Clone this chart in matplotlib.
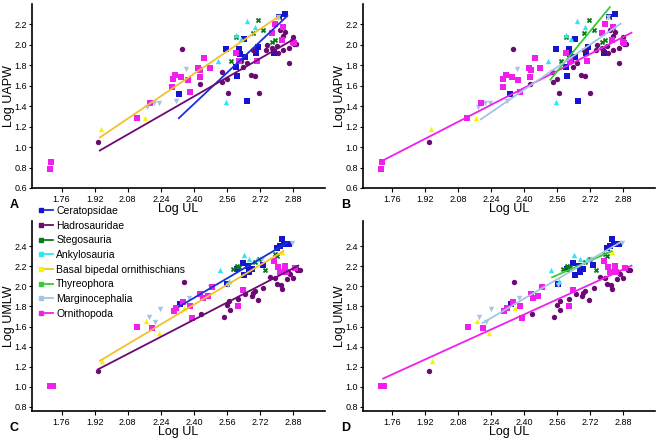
import matplotlib
matplotlib.use("Agg")
import matplotlib.pyplot as plt
from matplotlib.lines import Line2D
from matplotlib.legend_handler import HandlerTuple

plt.rcParams['font.family'] = ['Liberation Sans', 'DejaVu Sans']

# ---- UAPW data (panels A, B) ----
cera_ul_a = [2.33, 2.553, 2.604, 2.607, 2.617, 2.623, 2.648, 2.659, 2.644, 2.70, 2.711, 2.787, 2.813, 2.84]
cera_uapw = [1.52, 1.956, 1.78, 1.696, 1.956, 1.911, 1.878, 1.455, 2.057, 1.924, 1.982, 1.917, 2.275, 2.307]

hadro_ul_a = [1.937, 2.343, 2.428, 2.535, 2.537, 2.559, 2.567, 2.626, 2.636, 2.656, 2.675, 2.696, 2.717,
              2.688, 2.749, 2.752, 2.776, 2.781, 2.80, 2.808, 2.829, 2.832, 2.858, 2.861, 2.877, 2.883,
              2.893, 2.816, 2.84]
hadro_uapw = [1.049, 1.956, 1.618, 1.738, 1.64, 1.667, 1.527, 1.845, 1.787, 1.82, 1.706, 1.696, 1.527,
              1.95, 1.95, 1.998, 1.972, 1.95, 1.989, 1.924, 2.086, 1.95, 1.826, 1.966, 2.08, 2.008,
              2.005, 2.145, 2.128]

stego_ul_a = [2.578, 2.603, 2.688, 2.712, 2.736, 2.776, 2.792]
stego_uapw = [1.842, 2.08, 2.112, 2.242, 2.145, 2.031, 2.047]

ankylo_ul_a = [2.516, 2.553, 2.604, 2.627, 2.656, 2.696]
ankylo_uapw = [1.845, 1.446, 2.096, 2.054, 2.236, 2.171]

basal_ul_a = [1.949, 2.163, 2.335, 2.808]
basal_uapw = [1.176, 1.286, 1.696, 2.268]

margino_ul_a = [2.174, 2.209, 2.232, 2.314, 2.364, 2.805]
margino_uapw = [1.397, 1.436, 1.436, 1.455, 1.761, 2.275]

ornitho_ul_a = [1.705, 1.71, 2.123, 2.19, 2.294, 2.298, 2.31, 2.339, 2.37, 2.38, 2.421, 2.428, 2.431,
                2.45, 2.476, 2.604, 2.62, 2.704, 2.776, 2.792, 2.829, 2.824, 2.877, 2.883]
ornitho_uapw = [0.785, 0.85, 1.286, 1.436, 1.585, 1.663, 1.702, 1.683, 1.657, 1.543, 1.777, 1.683, 1.751,
                1.868, 1.777, 1.924, 1.845, 1.845, 2.112, 2.203, 2.177, 2.047, 2.031, 2.015]

# ---- UMLW data (panels C, D) ----
cera_ul_m = [2.335, 2.562, 2.607, 2.636, 2.644, 2.664, 2.668, 2.683, 2.733, 2.80, 2.816, 2.827, 2.835, 2.858]
cera_umlw = [1.824, 2.024, 2.173, 2.233, 2.117, 2.206, 2.147, 2.173, 2.213, 2.379, 2.406, 2.472, 2.423, 2.423]

hadro_ul_m = [1.938, 2.351, 2.436, 2.546, 2.559, 2.572, 2.575, 2.615, 2.649, 2.68, 2.684, 2.696, 2.712,
              2.736, 2.768, 2.792, 2.803, 2.821, 2.824, 2.848, 2.856, 2.877, 2.893, 2.901, 2.912, 2.864]
hadro_umlw = [1.159, 2.04, 1.724, 1.698, 1.814, 1.857, 1.768, 1.874, 1.924, 1.907, 1.934, 1.957, 1.867,
              1.984, 2.09, 2.08, 2.024, 2.014, 1.974, 2.074, 2.14, 2.08, 2.18, 2.163, 2.163, 2.123]

stego_ul_m = [2.587, 2.607, 2.62, 2.694, 2.717, 2.746, 2.792, 2.803]
stego_umlw = [2.173, 2.206, 2.19, 2.246, 2.273, 2.167, 2.323, 2.306]

ankylo_ul_m = [2.527, 2.569, 2.64, 2.668, 2.704]
ankylo_umlw = [2.163, 2.057, 2.316, 2.273, 2.273]

basal_ul_m = [1.954, 2.169, 2.23, 2.354, 2.824]
basal_umlw = [1.259, 1.658, 1.532, 1.781, 2.339]

margino_ul_m = [2.182, 2.214, 2.238, 2.375, 2.479, 2.564, 2.728, 2.872]
margino_umlw = [1.691, 1.641, 1.774, 1.884, 1.99, 2.017, 2.273, 2.433]

ornitho_ul_m = [1.705, 1.717, 2.126, 2.198, 2.302, 2.314, 2.347, 2.379, 2.389, 2.431, 2.444, 2.466,
                2.487, 2.636, 2.615, 2.787, 2.805, 2.816, 2.84, 2.845, 2.888]
ornitho_umlw = [1.009, 1.009, 1.598, 1.581, 1.758, 1.781, 1.847, 1.801, 1.681, 1.924, 1.881, 1.907,
                1.99, 1.967, 1.801, 2.256, 2.19, 2.14, 2.206, 2.14, 2.18]

# ---- regression lines: (x0, x1), (y0, y1) ----
fit_a_cera = ([2.327, 2.852], [1.283, 2.284])
fit_a_hadro = ([1.945, 2.884], [0.967, 2.057])
fit_a_basal = ([1.945, 2.807], [1.094, 2.274])
fit_b_ornitho = ([1.715, 2.92], [0.871, 2.119])
fit_b_thyreo = ([2.526, 2.815], [1.66, 2.369])
fit_b_margino = ([2.189, 2.867], [1.272, 2.207])
fit_c_basal = ([1.945, 2.833], [1.259, 2.35])
fit_c_hadro = ([1.938, 2.905], [1.176, 2.206])
fit_c_cera = ([2.33, 2.852], [1.80, 2.433])
fit_d_ornitho = ([1.715, 2.92], [1.083, 2.206])
fit_d_thyreo = ([2.535, 2.824], [2.09, 2.35])
fit_d_margino = ([2.197, 2.872], [1.635, 2.446])

x_ticks = [1.76, 1.92, 2.08, 2.24, 2.40, 2.56, 2.72, 2.88]

groups = ['Ceratopsidae', 'Hadrosauridae', 'Stegosauria', 'Ankylosauria',
          'Basal bipedal ornithischians', 'Thyreophora', 'Marginocephalia', 'Ornithopoda']
marker_col = {'Ceratopsidae': '#1515d0', 'Hadrosauridae': '#6a0a72', 'Stegosauria': '#0b7a1c',
              'Ankylosauria': '#2ee6f2', 'Basal bipedal ornithischians': '#f8f400',
              'Thyreophora': '#36cc36', 'Marginocephalia': '#a4c4e6', 'Ornithopoda': '#f020ec'}
line_col = dict(marker_col)
line_col['Ceratopsidae'] = '#1a30d8'
line_col['Basal bipedal ornithischians'] = '#f4c02e'
markers = {'Ceratopsidae': 's', 'Hadrosauridae': 'o', 'Stegosauria': 'X', 'Ankylosauria': '^',
           'Basal bipedal ornithischians': '^', 'Thyreophora': 'o', 'Marginocephalia': 'v',
           'Ornithopoda': 's'}

pts_a = [('Ceratopsidae', cera_ul_a, cera_uapw), ('Hadrosauridae', hadro_ul_a, hadro_uapw),
         ('Stegosauria', stego_ul_a, stego_uapw), ('Ankylosauria', ankylo_ul_a, ankylo_uapw),
         ('Basal bipedal ornithischians', basal_ul_a, basal_uapw),
         ('Marginocephalia', margino_ul_a, margino_uapw), ('Ornithopoda', ornitho_ul_a, ornitho_uapw)]
pts_m = [('Ceratopsidae', cera_ul_m, cera_umlw), ('Hadrosauridae', hadro_ul_m, hadro_umlw),
         ('Stegosauria', stego_ul_m, stego_umlw), ('Ankylosauria', ankylo_ul_m, ankylo_umlw),
         ('Basal bipedal ornithischians', basal_ul_m, basal_umlw),
         ('Marginocephalia', margino_ul_m, margino_umlw), ('Ornithopoda', ornitho_ul_m, ornitho_umlw)]

fig = plt.figure(figsize=(6.59, 4.38), dpi=100)
W, H = 659.0, 438.0


def make_ax(left, top, right, bottom):
    return fig.add_axes([left / W, 1 - bottom / H, (right - left) / W, (bottom - top) / H])


ax_a = make_ax(32, 4, 325, 188)
ax_b = make_ax(363, 4, 655, 188)
ax_c = make_ax(32, 221, 325, 411)
ax_d = make_ax(363, 221, 655, 411)


def draw(ax, pts, fits, ylab, ylim, yticks, letter):
    for name, xs, ys in pts:
        ax.scatter(xs, ys, s=15, marker=markers[name], color=marker_col[name],
                   linewidths=0, zorder=2)
    for name, (fx, fy) in fits:
        ax.plot(fx, fy, color=line_col[name], lw=1.3, zorder=3)
    ax.set_xlim(1.617, 3.034)
    ax.set_ylim(*ylim)
    ax.set_xticks(x_ticks)
    ax.set_xticklabels(['%.2f' % t for t in x_ticks])
    ax.set_yticks(yticks)
    ax.set_yticklabels(['%.1f' % t for t in yticks])
    ax.tick_params(labelsize=6.5, length=3, width=0.8, pad=2)
    ax.tick_params(axis='y', length=2, pad=1.5)
    for s in ['top', 'right']:
        ax.spines[s].set_visible(False)
    for s in ['left', 'bottom']:
        ax.spines[s].set_linewidth(1.2)
    ax.set_xlabel('Log UL', fontsize=9, labelpad=-1)
    ax.set_ylabel(ylab, fontsize=9, labelpad=0)
    ax.text(-0.06, -0.09, letter, transform=ax.transAxes, fontsize=9,
            fontweight='bold', ha='center', va='center')


yt_a = [0.6, 0.8, 1.0, 1.2, 1.4, 1.6, 1.8, 2.0, 2.2]
yt_c = [0.8, 1.0, 1.2, 1.4, 1.6, 1.8, 2.0, 2.2, 2.4]

draw(ax_a, pts_a, [('Ceratopsidae', fit_a_cera), ('Hadrosauridae', fit_a_hadro),
                   ('Basal bipedal ornithischians', fit_a_basal)],
     'Log UAPW', (0.6, 2.4), yt_a, 'A')
draw(ax_b, pts_a, [('Ornithopoda', fit_b_ornitho), ('Thyreophora', fit_b_thyreo),
                   ('Marginocephalia', fit_b_margino)],
     'Log UAPW', (0.6, 2.4), yt_a, 'B')
draw(ax_c, pts_m, [('Basal bipedal ornithischians', fit_c_basal), ('Hadrosauridae', fit_c_hadro),
                   ('Ceratopsidae', fit_c_cera)],
     'Log UMLW', (0.76, 2.65), yt_c, 'C')
draw(ax_d, pts_m, [('Ornithopoda', fit_d_ornitho), ('Thyreophora', fit_d_thyreo),
                   ('Marginocephalia', fit_d_margino)],
     'Log UMLW', (0.76, 2.65), yt_c, 'D')

handles = []
for g in groups:
    mk = Line2D([], [], marker='s', ls='none', color=marker_col[g], markersize=2.2)
    ln = Line2D([], [], color=line_col[g], lw=1.3)
    handles.append((mk, ln))

fig.legend(handles, groups, loc='upper left', bbox_to_anchor=(37 / W, 1 - 206 / H),
           frameon=False, fontsize=7.5, handler_map={tuple: HandlerTuple(ndivide=2, pad=0)},
           handlelength=1.5, handletextpad=0.35, labelspacing=0.45, borderaxespad=0, borderpad=0)

fig.savefig('out.png', dpi=100)
